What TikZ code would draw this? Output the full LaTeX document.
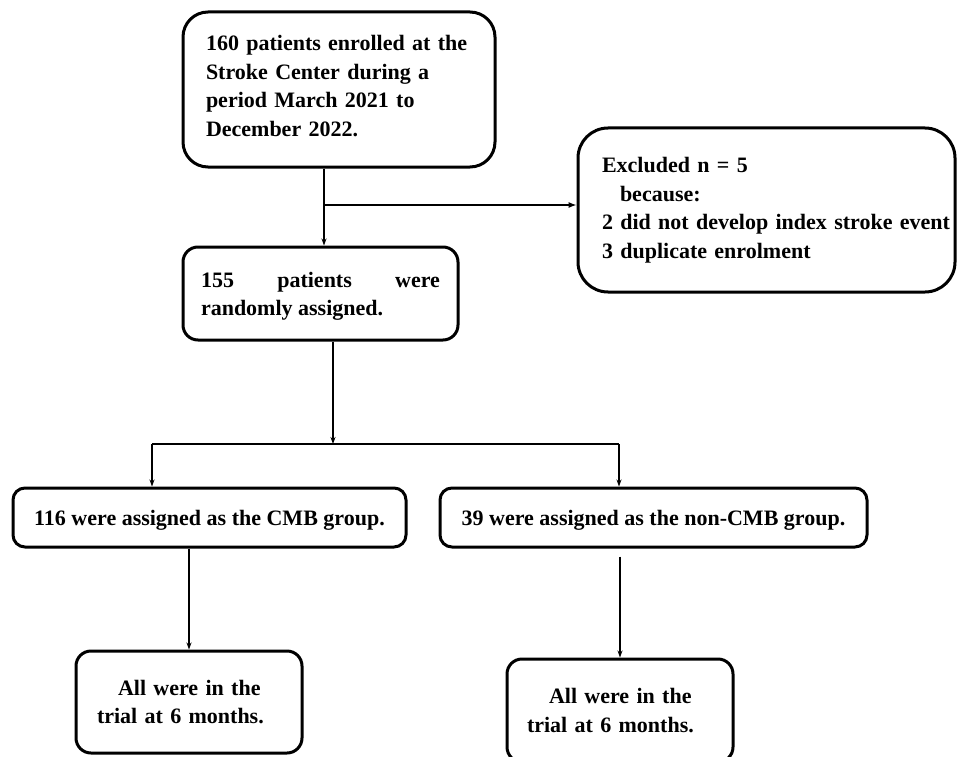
\documentclass[tikz,border=0pt]{standalone}
\usepackage{fontspec}
\setmainfont{Liberation Serif}
\usetikzlibrary{arrows.meta,calc}
\begin{document}
\begin{tikzpicture}[x=1pt,y=-1pt,
  box/.style={draw=black, line width=3pt, rounded corners=#1, fill=white, inner sep=0pt,
    font=\fontsize{22}{28.5}\selectfont\bfseries},
  conn/.style={line width=1.1pt, -{Stealth[length=7pt,width=5pt]}},
  bigarr/.style={line width=1.1pt, -{Latex[length=8pt,width=6pt]}},
  branch/.style={line width=1.8pt}
]
\useasboundingbox (0,0) rectangle (958,757);
\clip (0,0) rectangle (958,757);
\fill[white] (0,0) rectangle (958,757);

\node[box=25pt, minimum width=312pt, minimum height=155pt, text width=266pt, align=left] (t) at (339,89.5)
  {160 patients enrolled at the\\Stroke Center during a\\period March 2021 to\\December 2022.\rule[-7pt]{0pt}{0pt}};
\node[box=15pt, minimum width=275pt, minimum height=93pt, text width=239pt, align=justify] (b) at (320.5,293.5)
  {\rule{0pt}{21pt}155 patients were \mbox{randomly} assigned.};
\node[box=30pt, minimum width=377pt, minimum height=164pt, text width=329pt, align=left] (ex) at (766.5,210)
  {\mbox{Excluded n = 5}\\\mbox{\hspace*{18pt}because:}\\\mbox{2 did not develop index stroke event}\\\mbox{3 duplicate enrolment}};
\node[box=12pt, minimum width=393pt, minimum height=59pt] (g1) at (209.5,517.5)
  {\rule{0pt}{21pt}116 were assigned as the CMB group.};
\node[box=12pt, minimum width=427pt, minimum height=59pt] (g2) at (653.5,517.5)
  {\rule{0pt}{21pt}39 were assigned as the non-CMB group.};
\node[box=15pt, minimum width=226pt, minimum height=102pt, text width=184pt, align=left] (f1) at (189,702)
  {\hspace*{21pt}All were in the\\trial at 6 months.};
\node[box=15pt, minimum width=226pt, minimum height=103pt, text width=186pt, align=left] (f2) at (620,710.5)
  {\hspace*{22pt}All were in the\\trial at 6 months.};

\coordinate (c1) at (324,205);
\draw[conn] (t.south -| c1) -- (b.north -| c1);
\draw[bigarr] (c1) -- (c1 -| ex.west);

\coordinate (c2) at (333,444);
\coordinate (bl) at (152,444);
\coordinate (br) at (619,444);
\draw[conn] (b.south -| c2) -- (c2);
\draw[branch] (bl) -- (br);
\draw[conn] (bl) -- (g1.north -| bl);
\draw[conn] (br) -- (g2.north -| br);
\draw[conn] (g1.south -| f1.north) -- (f1.north);
\draw[conn] ($(g2.south -| f2.north)+(0,8)$) -- (f2.north);
\end{tikzpicture}
\end{document}
